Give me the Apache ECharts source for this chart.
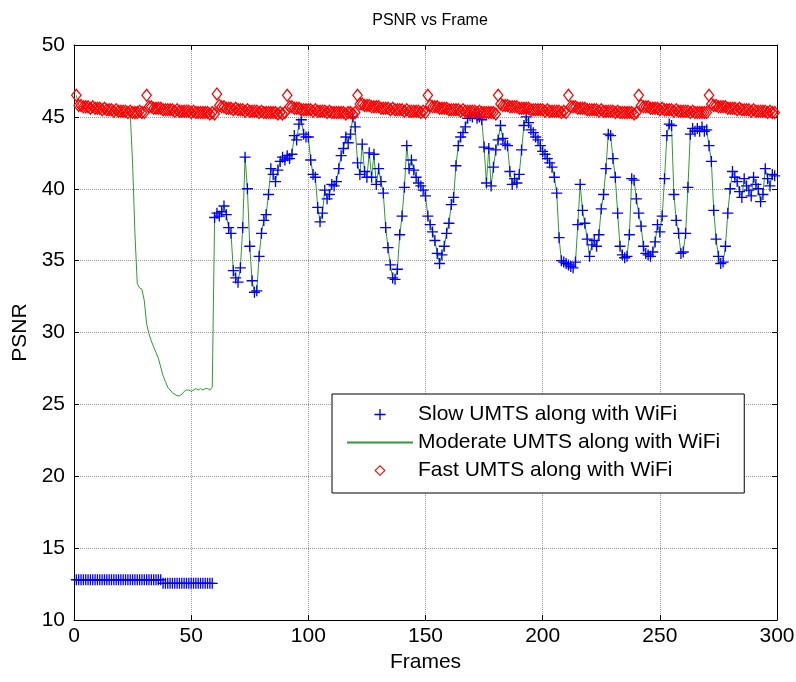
<!DOCTYPE html>
<html>
<head>
<meta charset="utf-8">
<script src="https://cdn.jsdelivr.net/npm/echarts@6/dist/echarts.min.js"></script>
<style>
  html, body { margin: 0; padding: 0; background: #fff; }
  #chart { width: 796px; height: 682px; }
</style>
</head>
<body>
<div id="chart"></div>
<script>
// frames 1..59 before the handover (slow stays stuck low, moderate dips)
const slowHead = [
  12.8, 12.8, 12.8, 12.8, 12.8, 12.8, 12.8, 12.8, 12.8, 12.8,
  12.8, 12.8, 12.8, 12.8, 12.8, 12.8, 12.8, 12.8, 12.8, 12.8,
  12.8, 12.8, 12.8, 12.8, 12.8, 12.8, 12.8, 12.8, 12.8, 12.8,
  12.8, 12.8, 12.8, 12.8, 12.8, 12.8, 12.8, 12.55, 12.55, 12.55,
  12.55, 12.55, 12.55, 12.55, 12.55, 12.55, 12.55, 12.55, 12.55, 12.55,
  12.55, 12.55, 12.55, 12.55, 12.55, 12.55, 12.55, 12.55, 12.55
]
const moderateHead = [
  46.5, 45.8, 45.7, 45.7, 45.6, 45.6, 45.6, 45.5, 45.5, 45.5,
  45.5, 45.5, 45.4, 45.4, 45.4, 45.4, 45.4, 45.3, 45.3, 45.3,
  45.3, 45.3, 45.2, 45.2, 41.8, 36.9, 33.4, 33.1, 33.0, 32.2,
  30.6, 29.9, 29.4, 29.0, 28.6, 28.2, 27.6, 27.0, 26.6, 26.2,
  26.0, 25.8, 25.7, 25.6, 25.6, 25.7, 25.9, 26.0, 26.0, 25.9,
  26.0, 26.1, 26.0, 26.1, 26.0, 26.1, 26.1, 26.0, 26.2
]
// frames 60..299, shared by slow and moderate
const sharedTail = [
  38.0, 38.3, 38.1, 38.4, 38.8, 38.2, 37.3, 36.9, 34.3, 33.8,
  33.5, 34.5, 37.3, 42.2, 40.0, 36.0, 33.6, 32.8, 32.9, 35.3,
  36.9, 37.8, 38.2, 39.6, 41.4, 41.0, 40.5, 41.3, 41.9, 42.2,
  42.0, 42.3, 42.1, 42.4, 43.7, 43.4, 44.5, 44.8, 43.8, 43.6,
  43.6, 42.0, 41.0, 40.8, 38.7, 37.7, 38.3, 39.9, 39.3, 39.6,
  40.3, 40.2, 40.5, 41.4, 42.3, 42.8, 43.6, 43.2, 43.8, 45.0,
  44.3, 41.8, 41.0, 43.1, 41.2, 40.8, 42.5, 40.8, 42.4, 40.3,
  41.4, 40.5, 39.7, 37.3, 35.9, 34.7, 33.8, 33.7, 34.4, 36.8,
  38.1, 40.1, 43.0, 41.4, 42.0, 41.3, 40.8, 40.4, 40.2, 39.9,
  39.5, 38.1, 37.5, 37.0, 36.4, 35.5, 34.8, 35.4, 36.0, 36.9,
  37.6, 38.9, 39.4, 41.6, 43.0, 43.6, 43.9, 44.3, 44.9, 45.1,
  45.0, 45.2, 44.9, 45.0, 44.8, 42.9, 40.4, 42.8, 40.2, 41.5,
  42.7, 43.4, 44.4, 43.5, 43.1, 43.0, 41.2, 40.3, 40.7, 40.4,
  41.0, 42.7, 44.4, 45.0, 44.6, 44.1, 43.9, 43.6, 43.4, 43.0,
  42.6, 42.4, 42.1, 41.8, 41.5, 40.8, 39.7, 36.6, 35.0, 34.9,
  34.8, 34.7, 34.6, 34.5, 34.9, 37.5, 40.3, 38.5, 37.6, 36.5,
  35.3, 36.1, 36.4, 36.0, 36.8, 38.6, 39.6, 41.4, 43.8, 43.7,
  42.1, 40.8, 38.3, 36.0, 35.4, 35.2, 35.3, 36.8, 40.7, 40.6,
  39.3, 38.3, 37.4, 36.0, 35.5, 35.4, 35.3, 35.6, 36.3, 37.5,
  37.0, 38.1, 40.7, 43.7, 44.5, 44.4, 39.6, 37.8, 36.9, 35.5,
  35.6, 36.9, 40.1, 43.8, 44.2, 44.0, 44.2, 44.0, 44.3, 44.0,
  44.1, 43.0, 41.9, 38.5, 36.5, 35.3, 34.8, 34.9, 36.0, 38.3,
  40.0, 41.2, 40.8, 40.5, 39.8, 39.4, 40.7, 40.2, 39.9, 39.5,
  40.8, 40.3, 40.0, 39.1, 39.6, 41.4, 40.7, 40.2, 41.0, 40.9
]
// frames 1..299
const fastValues = [
  46.5, 45.8, 45.8, 45.7, 45.7, 45.7, 45.6, 45.7, 45.6, 45.6, 45.6, 45.5, 45.6, 45.5, 45.5, 45.5, 45.4, 45.5, 45.4, 45.4, 45.4, 45.4, 45.3, 45.4, 45.3, 45.3, 45.3, 45.4, 45.3, 45.3,
  46.5, 45.7, 45.7, 45.6, 45.6, 45.6, 45.6, 45.5, 45.5, 45.5, 45.5, 45.5, 45.4, 45.5, 45.4, 45.4, 45.4, 45.4, 45.4, 45.3, 45.4, 45.3, 45.3, 45.3, 45.3, 45.3, 45.3, 45.2, 45.3, 45.2,
  46.6, 45.8, 45.7, 45.7, 45.6, 45.6, 45.6, 45.5, 45.6, 45.5, 45.5, 45.5, 45.4, 45.5, 45.4, 45.4, 45.4, 45.4, 45.3, 45.4, 45.3, 45.3, 45.3, 45.3, 45.3, 45.3, 45.2, 45.3, 45.2, 45.3,
  46.5, 45.7, 45.7, 45.6, 45.6, 45.6, 45.5, 45.5, 45.5, 45.5, 45.5, 45.4, 45.5, 45.4, 45.4, 45.4, 45.4, 45.3, 45.4, 45.3, 45.3, 45.3, 45.3, 45.3, 45.3, 45.2, 45.3, 45.3, 45.2, 45.3,
  46.5, 45.9, 45.9, 45.8, 45.8, 45.8, 45.7, 45.7, 45.7, 45.7, 45.6, 45.6, 45.6, 45.6, 45.5, 45.6, 45.5, 45.5, 45.5, 45.5, 45.4, 45.5, 45.4, 45.4, 45.4, 45.4, 45.4, 45.3, 45.4, 45.3,
  46.5, 45.8, 45.7, 45.7, 45.7, 45.6, 45.6, 45.6, 45.6, 45.5, 45.5, 45.5, 45.5, 45.5, 45.4, 45.5, 45.4, 45.4, 45.4, 45.4, 45.4, 45.3, 45.4, 45.3, 45.3, 45.3, 45.3, 45.3, 45.3, 45.2,
  46.5, 45.9, 45.8, 45.8, 45.8, 45.7, 45.7, 45.7, 45.7, 45.6, 45.6, 45.6, 45.6, 45.6, 45.5, 45.5, 45.5, 45.5, 45.5, 45.5, 45.4, 45.5, 45.4, 45.4, 45.4, 45.4, 45.4, 45.3, 45.4, 45.3,
  46.5, 45.7, 45.7, 45.7, 45.6, 45.6, 45.6, 45.6, 45.5, 45.5, 45.5, 45.5, 45.5, 45.4, 45.5, 45.4, 45.4, 45.4, 45.4, 45.4, 45.3, 45.4, 45.3, 45.3, 45.3, 45.3, 45.3, 45.3, 45.2, 45.3,
  46.5, 45.8, 45.7, 45.7, 45.7, 45.6, 45.6, 45.6, 45.6, 45.5, 45.6, 45.5, 45.5, 45.5, 45.5, 45.4, 45.5, 45.4, 45.4, 45.4, 45.4, 45.4, 45.3, 45.4, 45.3, 45.3, 45.3, 45.3, 45.3, 45.3,
  46.5, 45.9, 45.8, 45.8, 45.7, 45.7, 45.7, 45.7, 45.6, 45.6, 45.6, 45.6, 45.5, 45.6, 45.5, 45.5, 45.5, 45.5, 45.4, 45.5, 45.4, 45.4, 45.4, 45.4, 45.4, 45.3, 45.4, 45.3, 45.3
]
const seriesNames = ['Slow UMTS along with WiFi', 'Moderate UMTS along with WiFi', 'Fast UMTS along with WiFi']

const slowValues = slowHead.concat(sharedTail)
const moderateValues = moderateHead.concat(sharedTail)
const toPoints = arr => arr.map((v, i) => [i + 1, v])

const font = 'Liberation Sans, Arial, Helvetica, sans-serif'
const plusSymbol = 'path://M0,4.4H10V5.6H0Z M4.4,0H5.6V10H4.4Z'
// hollow diamond: outer clockwise, inner counter-clockwise
const diamondSymbol = 'path://M5,0L10,6.5L5,13L0,6.5Z M5,2.0L1.4,6.5L5,11.0L8.6,6.5Z'

const gridLine = { show: true, lineStyle: { color: '#9a9a9a', type: 'dotted', width: 1 } }
const blackLine = { show: true, onZero: false, lineStyle: { color: '#000', width: 1 } }
const inTick = { show: true, inside: true, length: 5, lineStyle: { color: '#000' } }

const myChart = echarts.init(document.getElementById('chart'))
myChart.setOption({
  animation: false,
  backgroundColor: '#fff',
  title: {
    text: 'PSNR vs Frame',
    left: 425,
    top: 8,
    textAlign: 'center',
    textStyle: { fontFamily: font, fontSize: 16, fontWeight: 'normal', color: '#000' }
  },
  legend: {
    data: [
      seriesNames[0],
      { name: seriesNames[1], itemStyle: { opacity: 0 } },
      seriesNames[2]
    ],
    orient: 'vertical',
    left: 332,
    top: 394,
    padding: [10, 24, 12, 14],
    itemGap: 7,
    itemWidth: 66,
    itemHeight: 14,
    backgroundColor: '#fff',
    borderColor: '#000',
    borderWidth: 1,
    borderRadius: 0,
    textStyle: { fontFamily: font, fontSize: 21, color: '#000' }
  },
  grid: {
    left: 74,
    right: 19,
    top: 45,
    bottom: 62,
    containLabel: false,
    outerBoundsMode: 'none'
  },
  xAxis: [
    {
      type: 'value',
      position: 'bottom',
      min: 0,
      max: 300,
      interval: 50,
      name: 'Frames',
      nameLocation: 'middle',
      nameGap: 30,
      nameTextStyle: { fontFamily: font, fontSize: 21, color: '#000' },
      axisLine: blackLine,
      axisTick: inTick,
      axisLabel: { fontFamily: font, fontSize: 21, color: '#000', margin: 6 },
      splitLine: gridLine
    },
    {
      type: 'value',
      position: 'top',
      min: 0,
      max: 300,
      interval: 50,
      axisLine: blackLine,
      axisTick: inTick,
      axisLabel: { show: false },
      splitLine: { show: false }
    }
  ],
  yAxis: [
    {
      type: 'value',
      position: 'left',
      min: 10,
      max: 50,
      interval: 5,
      name: 'PSNR',
      nameLocation: 'middle',
      nameGap: 38,
      nameTextStyle: { fontFamily: font, fontSize: 21, color: '#000' },
      axisLine: blackLine,
      axisTick: inTick,
      axisLabel: { fontFamily: font, fontSize: 21, color: '#000', margin: 9 },
      splitLine: gridLine
    },
    {
      type: 'value',
      position: 'right',
      min: 10,
      max: 50,
      interval: 5,
      axisLine: blackLine,
      axisTick: inTick,
      axisLabel: { show: false },
      splitLine: { show: false }
    }
  ],
  series: [
    {
      name: seriesNames[0],
      type: 'line',
      data: toPoints(slowValues),
      symbol: plusSymbol,
      symbolSize: 11,
      showAllSymbol: true,
      color: '#0000ff',
      itemStyle: { color: '#0000ff' },
      lineStyle: { width: 0, opacity: 0 },
      emphasis: { disabled: true }
    },
    {
      name: seriesNames[1],
      type: 'line',
      data: toPoints(moderateValues),
      symbol: 'none',
      color: '#2f9a2f',
      lineStyle: { color: '#2f9a2f', width: 1 },
      emphasis: { disabled: true }
    },
    {
      name: seriesNames[2],
      type: 'line',
      data: toPoints(fastValues),
      symbol: diamondSymbol,
      symbolSize: [11, 14],
      showAllSymbol: true,
      color: '#ff0000',
      itemStyle: { color: '#ff0000' },
      lineStyle: { width: 0, opacity: 0 },
      emphasis: { disabled: true }
    }
  ]
})
</script>
</body>
</html>
